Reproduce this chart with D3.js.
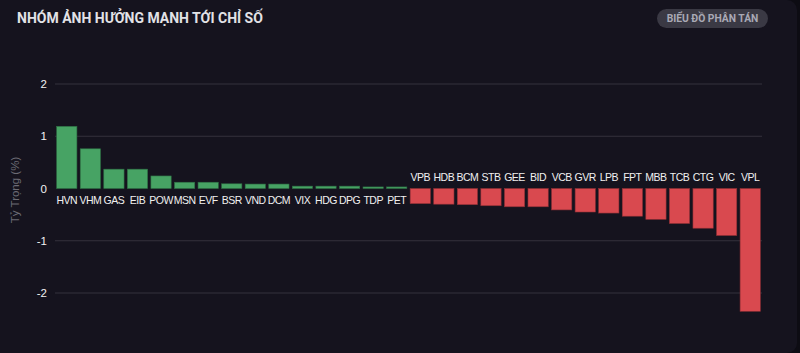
<!DOCTYPE html>
<html lang="vi">
<head>
<meta charset="UTF-8">
<script src="https://d3js.org/d3.v7.min.js"></script>
<style>
    html, body { margin: 0; padding: 0; background: #0d0c13; }
    #card { position: absolute; left: 0; top: 0; width: 797px; height: 353px; background: #15131e; border-radius: 0 10px 10px 0; }
    svg { position: absolute; left: 0; top: 0; }
</style>
</head>
<body>
<div id="card"></div>
<svg id="chart" width="800" height="353"></svg>
<script>
    // dữ liệu
    const tickers = ['HVN','VHM','GAS','EIB','POW','MSN','EVF','BSR','VND','DCM','VIX','HDG','DPG','TDP','PET',
                     'VPB','HDB','BCM','STB','GEE','BID','VCB','GVR','LPB','FPT','MBB','TCB','CTG','VIC','VPL'];
    const weights = [1.19, 0.76, 0.37, 0.37, 0.24, 0.12, 0.12, 0.09, 0.085, 0.085, 0.045, 0.045, 0.045, 0.03, 0.03,
                     -0.29, -0.30, -0.31, -0.33, -0.35, -0.35, -0.41, -0.45, -0.47, -0.53, -0.59, -0.67, -0.76, -0.90, -2.35];
    const yTicks = [-2, -1, 0, 1, 2];

    const font = '"Liberation Sans", Arial, Helvetica, sans-serif';
    const titleFont = 'Roboto, Arial, sans-serif';
    const data = tickers.map((t, i) => ({ t, v: weights[i] }));
    const svg = d3.select('#chart');

    // tiêu đề
    svg.append('text')
        .attr('x', 17).attr('y', 23)
        .attr('font-family', titleFont)
        .attr('font-size', 14).attr('font-weight', 700)
        .attr('fill', '#e2e2e6')
        .text('NHÓM ẢNH HƯỞNG MẠNH TỚI CHỈ SỐ');

    // nút
    svg.append('rect')
        .attr('x', 657).attr('y', 9).attr('width', 111).attr('height', 19)
        .attr('rx', 9.5).attr('fill', '#3a3944');
    svg.append('text')
        .attr('x', 712.5).attr('y', 22)
        .attr('text-anchor', 'middle')
        .attr('font-family', titleFont)
        .attr('font-size', 10.3).attr('font-weight', 700)
        .attr('fill', '#a9a9b5')
        .text('BIỂU ĐỒ PHÂN TÁN');

    const x = d3.scaleBand().domain(tickers).range([55, 762]).paddingInner(0.14).paddingOuter(0.07);
    const y = d3.scaleLinear().domain([-2, 2]).range([293, 84]);

    // lưới
    svg.append('g')
        .selectAll('line')
        .data(yTicks.filter(d => d !== 0))
        .enter().append('line')
        .attr('x1', 55).attr('x2', 762)
        .attr('y1', d => y(d)).attr('y2', d => y(d))
        .attr('stroke', '#34323d').attr('stroke-width', 1);

    // trục Y
    const yAxis = svg.append('g')
        .attr('transform', 'translate(55,0)')
        .call(d3.axisLeft(y).tickValues(yTicks).tickSize(0).tickPadding(8).tickFormat(d => String(d)));
    yAxis.select('.domain').remove();
    yAxis.selectAll('text')
        .attr('fill', '#f2f2f2')
        .attr('font-family', font)
        .attr('font-size', 11.5);

    svg.append('text')
        .attr('transform', 'translate(19,' + 190 + ') rotate(-90)')
        .attr('text-anchor', 'middle')
        .attr('font-family', font)
        .attr('font-size', 11.5)
        .attr('fill', '#6c6b75')
        .text('Tỷ Trọng (%)');

    // cột
    svg.append('g')
        .selectAll('rect')
        .data(data)
        .enter().append('rect')
        .attr('x', d => x(d.t))
        .attr('width', x.bandwidth())
        .attr('y', d => y(Math.max(0, d.v)))
        .attr('height', d => Math.abs(y(d.v) - y(0)))
        .attr('fill', d => d.v >= 0 ? '#47a364' : '#d9494f')
        .attr('stroke', d => d.v >= 0 ? '#2e6e43' : '#8e2f35')
        .attr('stroke-width', 0.6);

    // nhãn
    svg.append('g')
        .selectAll('text')
        .data(data)
        .enter().append('text')
        .attr('x', d => x(d.t) + x.bandwidth() / 2)
        .attr('y', d => d.v >= 0 ? y(0) + 15.5 : y(0) - 7.5)
        .attr('text-anchor', 'middle')
        .attr('font-family', font)
        .attr('font-size', 10.5)
        .attr('letter-spacing', -0.5)
        .attr('fill', '#f0f0f0')
        .text(d => d.t);
</script>
</body>
</html>
